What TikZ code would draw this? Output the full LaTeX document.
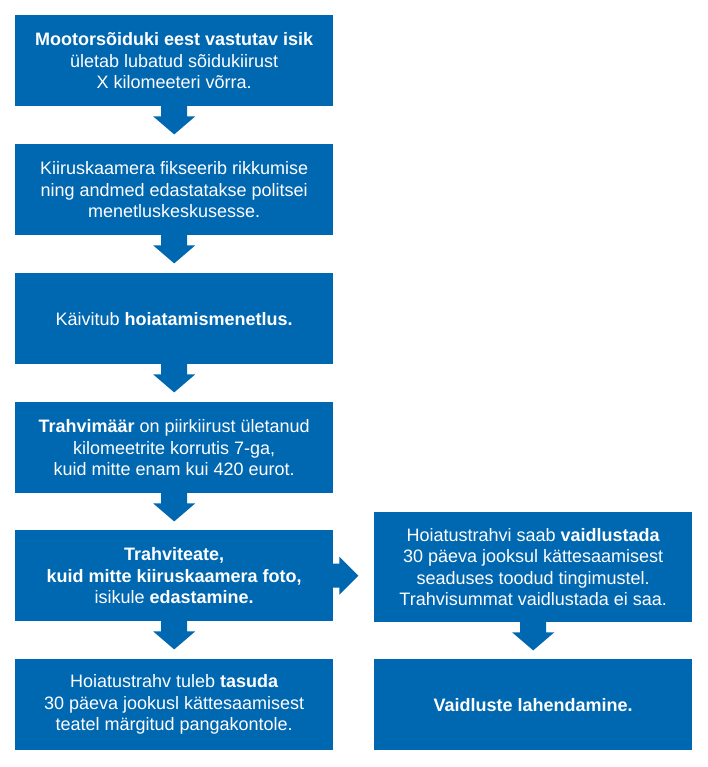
\documentclass[tikz,border=0pt]{standalone}
\usepackage{fontspec}
\setmainfont{Liberation Sans}
\usetikzlibrary{calc}
\definecolor{boxblue}{RGB}{0,103,177}
\tikzset{
  flowbox/.style={fill=boxblue, text=white, align=center, minimum width=318pt,
    minimum height=91pt, inner sep=0pt, anchor=north west,
    font=\fontsize{18}{21.5}\selectfont},
  arrowfill/.style={fill=boxblue},
}
\newcommand\downarr[1]{\fill[arrowfill] ($(#1.south)+(-13,-0.5)$) -- ($(#1.south)+(13,-0.5)$) -- ($(#1.south)+(13,10)$) -- ($(#1.south)+(21,10)$) -- ($(#1.south)+(0,28)$) -- ($(#1.south)+(-21,10)$) -- ($(#1.south)+(-13,10)$) -- cycle;}
\begin{document}
\begin{tikzpicture}[x=1pt,y=-1pt]
\useasboundingbox (0,0) rectangle (707,767);
\node[flowbox] (b1) at (15,15) {\textbf{Mootorsõiduki eest vastutav isik}\\ületab lubatud sõidukiirust\\X kilomeeteri võrra.};
\node[flowbox] (b2) at (15,144) {Kiiruskaamera fikseerib rikkumise\\ning andmed edastatakse politsei\\menetluskeskusesse.};
\node[flowbox] (b3) at (15,273) {Käivitub \textbf{hoiatamismenetlus.}};
\node[flowbox] (b4) at (15,402) {\textbf{Trahvimäär} on piirkiirust ületanud\\kilomeetrite korrutis 7-ga,\\kuid mitte enam kui 420 eurot.};
\node[flowbox] (b5) at (15,530) {\textbf{Trahviteate,}\\\textbf{kuid mitte kiiruskaamera foto,}\\isikule \textbf{edastamine.}};
\node[flowbox] (b6) at (15,659) {Hoiatustrahv tuleb \textbf{tasuda}\\30 päeva jookusl kättesaamisest\\teatel märgitud pangakontole.};
\node[flowbox, minimum height=110pt] (r1) at (374,512) {Hoiatustrahvi saab \textbf{vaidlustada}\\30 päeva jooksul kättesaamisest\\seaduses toodud tingimustel.\\Trahvisummat vaidlustada ei saa.};
\node[flowbox] (r2) at (374,659) {\textbf{Vaidluste lahendamine.}};
\downarr{b1}
\downarr{b2}
\downarr{b3}
\downarr{b4}
\downarr{b5}
\downarr{r1}
\fill[arrowfill] ($(b5.east)+(-0.5,-12)$) -- ($(b5.east)+(6,-12)$) -- ($(b5.east)+(6,-19)$) -- ($(b5.east)+(25,0)$) -- ($(b5.east)+(6,19)$) -- ($(b5.east)+(6,12)$) -- ($(b5.east)+(-0.5,12)$) -- cycle;
\end{tikzpicture}
\end{document}
